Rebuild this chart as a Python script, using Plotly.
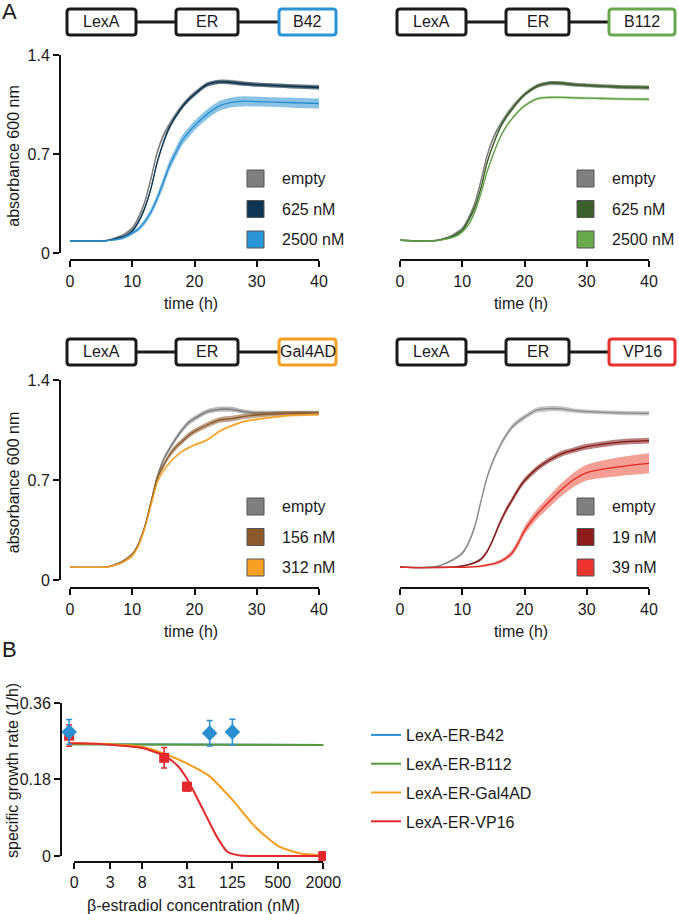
import plotly.graph_objects as go

W, H = 679, 914
FONT = "Liberation Sans, Arial, sans-serif"

# ---------------- Panel A data ----------------
time_h = [0, 3, 6, 8, 9, 10, 11, 12, 13, 14, 15, 16, 17, 18, 19, 20, 22, 24, 26, 28, 30, 35, 40]

# LexA-ER-B42
b42_empty = [0.086, 0.086, 0.090, 0.117, 0.140, 0.175, 0.250, 0.360, 0.525, 0.710, 0.830, 0.910, 0.980, 1.040, 1.090, 1.130, 1.190, 1.210, 1.210, 1.200, 1.190, 1.180, 1.175]
b42_625 = [0.086, 0.086, 0.088, 0.108, 0.125, 0.155, 0.220, 0.317, 0.455, 0.640, 0.780, 0.890, 0.965, 1.030, 1.080, 1.120, 1.190, 1.210, 1.205, 1.195, 1.190, 1.180, 1.170]
b42_2500 = [0.086, 0.086, 0.088, 0.100, 0.115, 0.140, 0.170, 0.220, 0.290, 0.385, 0.500, 0.620, 0.710, 0.795, 0.850, 0.900, 0.980, 1.040, 1.065, 1.073, 1.070, 1.064, 1.057]
b42_empty_sd = [0.004, 0.004, 0.005, 0.008, 0.010, 0.012, 0.015, 0.018, 0.020, 0.020, 0.020, 0.020, 0.018, 0.016, 0.015, 0.015, 0.015, 0.015, 0.015, 0.015, 0.015, 0.015, 0.015]
b42_625_sd = [0.004, 0.004, 0.005, 0.006, 0.008, 0.010, 0.012, 0.014, 0.015, 0.015, 0.015, 0.015, 0.015, 0.015, 0.015, 0.015, 0.015, 0.015, 0.015, 0.015, 0.015, 0.015, 0.015]
b42_2500_sd = [0.004, 0.004, 0.005, 0.008, 0.010, 0.012, 0.015, 0.020, 0.025, 0.030, 0.035, 0.035, 0.035, 0.035, 0.035, 0.035, 0.035, 0.035, 0.035, 0.035, 0.035, 0.035, 0.035]

# LexA-ER-B112
b112_empty = [0.090, 0.086, 0.090, 0.115, 0.140, 0.172, 0.245, 0.350, 0.510, 0.690, 0.815, 0.900, 0.970, 1.030, 1.080, 1.120, 1.180, 1.200, 1.200, 1.190, 1.185, 1.175, 1.170]
b112_625 = [0.090, 0.085, 0.090, 0.110, 0.130, 0.160, 0.230, 0.320, 0.460, 0.640, 0.770, 0.877, 0.955, 1.015, 1.070, 1.120, 1.180, 1.203, 1.200, 1.190, 1.185, 1.175, 1.170]
b112_2500 = [0.090, 0.085, 0.088, 0.105, 0.120, 0.150, 0.200, 0.290, 0.420, 0.575, 0.700, 0.810, 0.890, 0.950, 1.000, 1.040, 1.090, 1.100, 1.100, 1.097, 1.095, 1.090, 1.087]
b112_empty_sd = [0.004, 0.004, 0.005, 0.008, 0.010, 0.012, 0.015, 0.015, 0.015, 0.015, 0.015, 0.015, 0.015, 0.015, 0.015, 0.015, 0.015, 0.015, 0.015, 0.015, 0.015, 0.015, 0.015]
b112_625_sd = [0.004, 0.004, 0.005, 0.008, 0.010, 0.012, 0.012, 0.012, 0.012, 0.012, 0.012, 0.012, 0.012, 0.012, 0.012, 0.012, 0.012, 0.012, 0.012, 0.012, 0.012, 0.012, 0.012]
b112_2500_sd = [0.004, 0.004, 0.005, 0.006, 0.008, 0.010, 0.010, 0.010, 0.010, 0.010, 0.010, 0.010, 0.010, 0.010, 0.010, 0.010, 0.010, 0.010, 0.010, 0.010, 0.010, 0.010, 0.010]

# LexA-ER-Gal4AD
gal_empty = [0.090, 0.088, 0.092, 0.120, 0.145, 0.180, 0.250, 0.370, 0.540, 0.720, 0.840, 0.920, 0.990, 1.050, 1.100, 1.130, 1.178, 1.195, 1.195, 1.178, 1.170, 1.170, 1.170]
gal_156 = [0.090, 0.088, 0.092, 0.118, 0.142, 0.175, 0.250, 0.370, 0.540, 0.710, 0.800, 0.875, 0.930, 0.970, 1.010, 1.040, 1.085, 1.120, 1.130, 1.145, 1.155, 1.167, 1.167]
gal_312 = [0.090, 0.088, 0.091, 0.115, 0.138, 0.170, 0.240, 0.360, 0.520, 0.680, 0.765, 0.820, 0.865, 0.900, 0.925, 0.945, 0.980, 1.040, 1.080, 1.110, 1.125, 1.150, 1.160]
gal_empty_sd = [0.004, 0.004, 0.005, 0.008, 0.010, 0.012, 0.015, 0.018, 0.018, 0.018, 0.018, 0.018, 0.018, 0.018, 0.018, 0.018, 0.018, 0.018, 0.018, 0.015, 0.015, 0.015, 0.015]
gal_156_sd = [0.004, 0.004, 0.005, 0.008, 0.010, 0.012, 0.015, 0.018, 0.020, 0.020, 0.020, 0.020, 0.020, 0.020, 0.020, 0.020, 0.020, 0.020, 0.020, 0.018, 0.018, 0.015, 0.015]
gal_312_sd = [0.004, 0.004, 0.005, 0.006, 0.008, 0.008, 0.008, 0.008, 0.008, 0.008, 0.008, 0.008, 0.008, 0.008, 0.008, 0.008, 0.008, 0.008, 0.008, 0.008, 0.008, 0.008, 0.008]

# LexA-ER-VP16
vp_empty = [0.090, 0.088, 0.095, 0.130, 0.155, 0.187, 0.260, 0.373, 0.550, 0.720, 0.840, 0.933, 1.010, 1.070, 1.110, 1.140, 1.190, 1.200, 1.198, 1.185, 1.178, 1.170, 1.167]
vp_19 = [0.090, 0.087, 0.088, 0.090, 0.092, 0.098, 0.107, 0.121, 0.145, 0.200, 0.290, 0.395, 0.485, 0.560, 0.635, 0.695, 0.780, 0.840, 0.885, 0.910, 0.933, 0.964, 0.975]
vp_39 = [0.090, 0.087, 0.087, 0.088, 0.088, 0.089, 0.090, 0.093, 0.097, 0.105, 0.113, 0.128, 0.152, 0.190, 0.260, 0.345, 0.460, 0.550, 0.635, 0.705, 0.752, 0.792, 0.817]
vp_empty_sd = [0.004, 0.004, 0.005, 0.008, 0.010, 0.012, 0.015, 0.018, 0.018, 0.018, 0.018, 0.018, 0.018, 0.018, 0.018, 0.018, 0.018, 0.018, 0.018, 0.015, 0.015, 0.015, 0.015]
vp_19_sd = [0.004, 0.004, 0.004, 0.004, 0.004, 0.005, 0.006, 0.008, 0.010, 0.012, 0.015, 0.018, 0.020, 0.020, 0.020, 0.020, 0.020, 0.020, 0.020, 0.020, 0.020, 0.020, 0.020]
vp_39_sd = [0.004, 0.004, 0.004, 0.004, 0.004, 0.004, 0.005, 0.006, 0.007, 0.008, 0.010, 0.012, 0.015, 0.020, 0.025, 0.030, 0.035, 0.040, 0.045, 0.050, 0.055, 0.065, 0.070]

y_ticks_A = [0, 0.7, 1.4]
y_ticktext_A = ["0", "0.7", "1.4"]
x_ticks_A = [0, 10, 20, 30, 40]

# ---------------- Panel B data ----------------
conc_ticks = [0, 3, 8, 31, 125, 500, 2000]
conc_tick_text = ["0", "3", "8", "31", "125", "500", "2000"]
zero_position = 0.86   # where "0 nM" data is drawn on the log axis
zero_tick_position = 1

b42_conc = [0, 62.5, 125]
b42_rate = [0.292, 0.289, 0.292]
b42_err = [0.029, 0.030, 0.030]

vp16_conc = [0, 15.6, 31.25, 2000]
vp16_rate = [0.283, 0.231, 0.163, 0.0]
vp16_err = [0.025, 0.024, 0.010, 0.0]

fit_b42_conc = [0, 2000]
fit_b42_rate = [0.263, 0.261]
fit_b112_conc = [0, 2000]
fit_b112_rate = [0.263, 0.261]
fit_gal_conc = [0, 1, 3, 8, 16, 31, 62, 125, 250, 500, 1000, 2000]
fit_gal_rate = [0.265, 0.265, 0.263, 0.257, 0.240, 0.218, 0.188, 0.132, 0.069, 0.024, 0.006, 0.002]
fit_vp_conc = [0, 1, 3, 8, 16, 23, 31, 42, 57, 78, 107, 150, 250, 500, 1000, 2000]
fit_vp_rate = [0.265, 0.265, 0.262, 0.254, 0.235, 0.214, 0.183, 0.139, 0.092, 0.045, 0.010, 0.002, 0.0, 0.0, 0.0, 0.0]

b_ticks = [0, 0.18, 0.36]
b_ticktext = ["0", "0.18", "0.36"]

# ---------------- styling ----------------
panels = [
    dict(name="B42", color="#2a93d4", series=[
        ("empty", b42_empty, b42_empty_sd, "#7a7a7a", "rgba(128,128,128,0.55)", "#7f7f7f"),
        ("625 nM", b42_625, b42_625_sd, "#0c3450", "rgba(12,52,80,0.55)", "#0f3552"),
        ("2500 nM", b42_2500, b42_2500_sd, "#2a8fd0", "rgba(42,143,208,0.55)", "#2b95d6"),
    ]),
    dict(name="B112", color="#6aa84f", series=[
        ("empty", b112_empty, b112_empty_sd, "#7a7a7a", "rgba(128,128,128,0.55)", "#7f7f7f"),
        ("625 nM", b112_625, b112_625_sd, "#3a5e2a", "rgba(58,94,42,0.55)", "#3c5f2c"),
        ("2500 nM", b112_2500, b112_2500_sd, "#5f9f45", "rgba(106,170,78,0.45)", "#6aaa4e"),
    ]),
    dict(name="Gal4AD", color="#f4a024", series=[
        ("empty", gal_empty, gal_empty_sd, "#7a7a7a", "rgba(128,128,128,0.55)", "#7f7f7f"),
        ("156 nM", gal_156, gal_156_sd, "#8a5a2a", "rgba(140,90,42,0.55)", "#8c5a2a"),
        ("312 nM", gal_312, gal_312_sd, "#f5a023", "rgba(247,160,35,0.55)", "#f7a024"),
    ]),
    dict(name="VP16", color="#e8302c", series=[
        ("empty", vp_empty, vp_empty_sd, "#8a8a8a", "rgba(150,150,150,0.55)", "#7f7f7f"),
        ("19 nM", vp_19, vp_19_sd, "#7e1a18", "rgba(142,40,36,0.6)", "#8e1c1c"),
        ("39 nM", vp_39, vp_39_sd, "#e02a26", "rgba(236,80,60,0.55)", "#ec3330"),
    ]),
]


def xd(p0, p1):
    return [p0 / W, p1 / W]


def yd(top, bottom):
    return [1 - bottom / H, 1 - top / H]


def px(x):
    return x / W


def py(y):
    return 1 - y / H


geom = [
    dict(xdom=(60, 322), ydom=(52, 260), yr=[-0.0495, 1.421], showy=True),
    dict(xdom=(390, 652), ydom=(52, 260), yr=[-0.0495, 1.421], showy=False),
    dict(xdom=(60, 322), ydom=(377, 588), yr=[-0.056, 1.421], showy=True),
    dict(xdom=(390, 652), ydom=(377, 588), yr=[-0.056, 1.421], showy=False),
]

fig = go.Figure()
shapes = []
annotations = []

tickfont = dict(family=FONT, size=16, color="#1a1a1a")
titlefont = dict(family=FONT, size=16, color="#1a1a1a")

for i, (panel, g) in enumerate(zip(panels, geom)):
    k = i + 1
    xa = "x" if k == 1 else f"x{k}"
    ya = "y" if k == 1 else f"y{k}"
    for label, mean, sd, lc, fc, sq in panel["series"]:
        lower = [m - s for m, s in zip(mean, sd)]
        upper = [m + s for m, s in zip(mean, sd)]
        fig.add_trace(go.Scatter(x=time_h, y=lower, xaxis=xa, yaxis=ya, mode="lines",
                                 line=dict(width=0, color=fc, shape="spline", smoothing=0.8),
                                 showlegend=False, hoverinfo="skip"))
        fig.add_trace(go.Scatter(x=time_h, y=upper, xaxis=xa, yaxis=ya, mode="lines",
                                 fill="tonexty", fillcolor=fc,
                                 line=dict(width=0, color=fc, shape="spline", smoothing=0.8),
                                 showlegend=False, hoverinfo="skip"))
        fig.add_trace(go.Scatter(x=time_h, y=mean, xaxis=xa, yaxis=ya, mode="lines",
                                 line=dict(width=1.3, color=lc, shape="spline", smoothing=0.8),
                                 name=label, showlegend=False))
    xkey = "xaxis" if k == 1 else f"xaxis{k}"
    ykey = "yaxis" if k == 1 else f"yaxis{k}"
    fig.layout[xkey] = dict(domain=xd(*g["xdom"]), anchor=ya, range=[-1.606, 40.48], automargin=False,
                            tickvals=x_ticks_A, ticks="outside", ticklen=6, tickwidth=1.5,
                            tickcolor="#111", showline=False, showgrid=False, zeroline=False,
                            ticklabelstandoff=1,
                            tickfont=tickfont, title=dict(text="time (h)", font=titlefont, standoff=8))
    ydict = dict(domain=yd(*g["ydom"]), anchor=xa, range=g["yr"], showgrid=False, zeroline=False,
                 showline=False, automargin=False)
    if g["showy"]:
        ydict.update(tickvals=y_ticks_A, ticktext=y_ticktext_A, ticks="outside", ticklen=6,
                     tickwidth=1.5, tickcolor="#111", tickfont=tickfont,
                     title=dict(text="absorbance 600 nm", font=titlefont, standoff=3))
    else:
        ydict.update(showticklabels=False, ticks="")
    fig.layout[ykey] = ydict

    shapes.append(dict(type="line", xref=xa, yref=f"{ya} domain", x0=0, x1=40, y0=0, y1=0,
                       line=dict(color="#111", width=2)))
    if g["showy"]:
        shapes.append(dict(type="line", xref=f"{xa} domain", yref=ya, x0=0, x1=0, y0=0, y1=1.4,
                           line=dict(color="#111", width=2)))

    lx = 247 if g["xdom"][0] < 300 else 577
    ly0 = 170 if g["ydom"][0] < 300 else 498
    for j, (label, mean, sd, lc, fc, sq) in enumerate(panel["series"]):
        top = ly0 + j * 30.5
        shapes.append(dict(type="rect", xref="paper", yref="paper",
                           x0=px(lx), x1=px(lx + 17), y0=py(top + 17), y1=py(top),
                           fillcolor=sq, line=dict(color="#555", width=1)))
        annotations.append(dict(xref="paper", yref="paper", x=px(lx + 33), y=py(top + 8.5),
                                text=label, showarrow=False, xanchor="left", yanchor="middle",
                                font=dict(family=FONT, size=16, color="#1a1a1a")))


def rounded_rect(x0, y0, x1, y1, r=3):
    return (f"M {px(x0 + r)},{py(y0)} L {px(x1 - r)},{py(y0)} Q {px(x1)},{py(y0)} {px(x1)},{py(y0 + r)} "
            f"L {px(x1)},{py(y1 - r)} Q {px(x1)},{py(y1)} {px(x1 - r)},{py(y1)} "
            f"L {px(x0 + r)},{py(y1)} Q {px(x0)},{py(y1)} {px(x0)},{py(y1 - r)} "
            f"L {px(x0)},{py(y0 + r)} Q {px(x0)},{py(y0)} {px(x0 + r)},{py(y0)} Z")


box_layouts = [
    dict(top=9, boxes=[(67, 136), (176, 238), (279, 336)]),
    dict(top=9, boxes=[(397, 466), (506, 569), (609, 675)]),
    dict(top=339, boxes=[(67, 136), (176, 238), (279, 336)]),
    dict(top=339, boxes=[(397, 466), (506, 569), (609, 675)]),
]
for panel, bl in zip(panels, box_layouts):
    top, bot = bl["top"], bl["top"] + 26
    mid = (top + bot) / 2
    b = bl["boxes"]
    for (a0, a1), (c0, c1) in zip(b[:-1], b[1:]):
        shapes.append(dict(type="line", xref="paper", yref="paper", x0=px(a1), x1=px(c0),
                           y0=py(mid), y1=py(mid), line=dict(color="#1a1a1a", width=3)))
    labels = ["LexA", "ER", panel["name"]]
    colors = ["#1a1a1a", "#1a1a1a", panel["color"]]
    for (x0, x1), lab, col in zip(b, labels, colors):
        shapes.append(dict(type="path", xref="paper", yref="paper", path=rounded_rect(x0, top, x1, bot),
                           fillcolor="white", line=dict(color=col, width=3)))
        annotations.append(dict(xref="paper", yref="paper", x=px((x0 + x1) / 2), y=py(mid),
                                text=lab, showarrow=False, xanchor="center", yanchor="middle",
                                font=dict(family=FONT, size=16, color="#1a1a1a")))


# ---------------- Panel B ----------------
def conc_pos(values):
    return [zero_position if v == 0 else v for v in values]


B_BLUE, B_GREEN, B_ORANGE, B_RED = "#2a8fd0", "#5b9a3c", "#f59d1e", "#e2282a"
fig.add_trace(go.Scatter(x=conc_pos(fit_b42_conc), y=fit_b42_rate, xaxis="x5", yaxis="y5", mode="lines",
                         line=dict(color=B_BLUE, width=2), name="LexA-ER-B42", legendgroup="g1"))
fig.add_trace(go.Scatter(x=conc_pos(fit_b112_conc), y=fit_b112_rate, xaxis="x5", yaxis="y5", mode="lines",
                         line=dict(color=B_GREEN, width=2), name="LexA-ER-B112", legendgroup="g2"))
fig.add_trace(go.Scatter(x=conc_pos(fit_gal_conc), y=fit_gal_rate, xaxis="x5", yaxis="y5", mode="lines",
                         line=dict(color=B_ORANGE, width=2, shape="spline", smoothing=0.6),
                         name="LexA-ER-Gal4AD", legendgroup="g3"))
fig.add_trace(go.Scatter(x=conc_pos(fit_vp_conc), y=fit_vp_rate, xaxis="x5", yaxis="y5", mode="lines",
                         line=dict(color=B_RED, width=2, shape="spline", smoothing=0.6),
                         name="LexA-ER-VP16", legendgroup="g4"))
fig.add_trace(go.Scatter(x=conc_pos(vp16_conc), y=vp16_rate, xaxis="x5", yaxis="y5", mode="markers",
                         marker=dict(symbol="square", size=10, color=B_RED),
                         error_y=dict(type="data", array=vp16_err, color=B_RED, thickness=1.5, width=3),
                         showlegend=False))
fig.add_trace(go.Scatter(x=conc_pos(b42_conc), y=b42_rate, xaxis="x5", yaxis="y5", mode="markers",
                         marker=dict(symbol="diamond", size=12, color=B_BLUE),
                         error_y=dict(type="data", array=b42_err, color=B_BLUE, thickness=1.5, width=3),
                         showlegend=False))

fig.layout["xaxis5"] = dict(domain=xd(61, 326), anchor="y5", type="log", range=[-0.1735, 3.337],
                            automargin=False,
                            tickvals=[zero_tick_position if v == 0 else v for v in conc_ticks],
                            ticktext=conc_tick_text, ticks="outside", ticklen=6, tickwidth=1.5,
                            tickcolor="#111", showline=False, showgrid=False, zeroline=False,
                            ticklabelstandoff=0, tickfont=tickfont,
                            title=dict(text="β-estradiol concentration (nM)", font=titlefont, standoff=9))
fig.layout["yaxis5"] = dict(domain=yd(700, 862), anchor="x5", range=[-0.0141, 0.367], automargin=False,
                            tickvals=b_ticks, ticktext=b_ticktext, ticks="outside", ticklen=6,
                            tickwidth=1.5, tickcolor="#111", showline=False, showgrid=False,
                            zeroline=False, tickfont=tickfont)
annotations.append(dict(xref="paper", yref="paper", x=px(12), y=py(771), text="specific growth rate (1/h)",
                        textangle=-90, showarrow=False, xanchor="center", yanchor="middle",
                        font=titlefont))
shapes.append(dict(type="line", xref="x5", yref="y5 domain", x0=zero_tick_position, x1=2000, y0=0, y1=0,
                   line=dict(color="#111", width=2)))
shapes.append(dict(type="line", xref="x5 domain", yref="y5", x0=0, x1=0, y0=0, y1=0.36,
                   line=dict(color="#111", width=2)))

annotations.append(dict(xref="paper", yref="paper", x=px(0), y=py(11), text="A", showarrow=False,
                        xanchor="left", yanchor="middle", font=dict(family=FONT, size=22, color="#1a1a1a")))
annotations.append(dict(xref="paper", yref="paper", x=px(0), y=py(649), text="B", showarrow=False,
                        xanchor="left", yanchor="middle", font=dict(family=FONT, size=22, color="#1a1a1a")))

fig.update_layout(
    width=W, height=H, margin=dict(l=0, r=0, t=0, b=0, autoexpand=False),
    paper_bgcolor="white", plot_bgcolor="white",
    shapes=shapes, annotations=annotations,
    showlegend=True,
    legend=dict(x=px(366), y=py(718), xanchor="left", yanchor="top", bgcolor="rgba(0,0,0,0)",
                font=dict(family=FONT, size=16, color="#1a1a1a"), tracegroupgap=5, itemwidth=30),
    font=dict(family=FONT, size=16, color="#1a1a1a"),
)

fig.write_html("out.html", config={"displayModeBar": False},
               post_script="document.body.style.margin='0px';document.body.style.overflow='hidden';")
